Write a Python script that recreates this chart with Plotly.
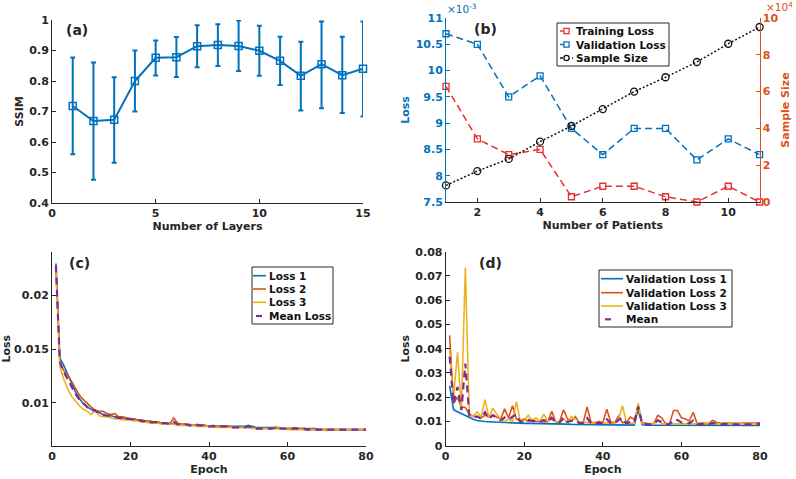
import plotly.graph_objects as go

W, H = 796, 479
def px(x): return x / W
def py(y): return 1 - y / H

FONT = "DejaVu Sans"
AX = "#262626"
BLUE = "#0072BD"
ORANGE = "#D95319"
YELLOW = "#EDB120"
PURPLE = "#7E2F8E"
RED = "#E5302F"

# ---------------- data (a) ----------------
layers = list(range(1, 16))
ssim_mean = [0.718, 0.669, 0.673, 0.800, 0.876, 0.878, 0.914, 0.918, 0.915, 0.899, 0.866, 0.817, 0.855, 0.819, 0.840]
ssim_upper = [0.877, 0.861, 0.812, 0.900, 0.933, 0.944, 0.983, 0.986, 0.998, 0.981, 0.945, 0.929, 0.995, 0.945, 0.995]
ssim_lower = [0.560, 0.476, 0.532, 0.700, 0.818, 0.813, 0.845, 0.849, 0.833, 0.817, 0.787, 0.703, 0.711, 0.695, 0.684]
a_xticks = [0, 5, 10, 15]
a_yticks = [0.4, 0.5, 0.6, 0.7, 0.8, 0.9, 1.0]
a_yticktext = ["0.4", "0.5", "0.6", "0.7", "0.8", "0.9", "1"]

# ---------------- data (b) ----------------
patients = list(range(1, 12))
training_loss = [0.0097, 0.0087, 0.0084, 0.0085, 0.0076, 0.0078, 0.0078, 0.0076, 0.0075, 0.0078, 0.0075]
validation_loss = [0.0107, 0.0105, 0.0095, 0.0099, 0.0089, 0.0084, 0.0089, 0.0089, 0.0083, 0.0087, 0.0084]
sample_size = [9000, 16800, 23400, 32800, 41300, 50500, 60000, 67800, 76100, 86000, 95100]
b_xticks = [2, 4, 6, 8, 10]
b_loss_ticks = [0.0075, 0.008, 0.0085, 0.009, 0.0095, 0.010, 0.0105, 0.011]
b_loss_ticktext = ["7.5", "8", "8.5", "9", "9.5", "10", "10.5", "11"]
b_size_ticks = [0, 20000, 40000, 60000, 80000, 100000]
b_size_ticktext = ["0", "2", "4", "6", "8", "10"]

# ---------------- data (c) ----------------
epochs = list(range(1, 81))
loss1 = [0.0230, 0.0142, 0.0135, 0.0127, 0.0118, 0.0110, 0.0104, 0.0099, 0.0096, 0.0094,
         0.0092, 0.0091, 0.0089, 0.0088, 0.0088, 0.0087, 0.0086, 0.0086, 0.0085, 0.0085,
         0.0084, 0.0084, 0.0083, 0.0083, 0.0082, 0.0082, 0.0082, 0.0081, 0.0081, 0.0081,
         0.0080, 0.0080, 0.0080, 0.0080, 0.0079, 0.0079, 0.0079, 0.0079, 0.0079, 0.0078,
         0.0079, 0.0078, 0.0078, 0.0078, 0.0078, 0.0078, 0.0078, 0.0078, 0.0078, 0.0079,
         0.0078, 0.0077, 0.0077, 0.0077, 0.0077, 0.0077, 0.0077, 0.0077, 0.0076, 0.0076,
         0.0076, 0.0076, 0.0076, 0.0076, 0.0076, 0.0076, 0.0076, 0.0075, 0.0075, 0.0075,
         0.0075, 0.0075, 0.0075, 0.0075, 0.0075, 0.0075, 0.0075, 0.0075, 0.0075, 0.0075]
loss2 = [0.0228, 0.0138, 0.0130, 0.0126, 0.0120, 0.0113, 0.0107, 0.0103, 0.0099, 0.0096,
         0.0093, 0.0092, 0.0092, 0.0090, 0.0089, 0.0090, 0.0087, 0.0087, 0.0086, 0.0085,
         0.0085, 0.0084, 0.0084, 0.0083, 0.0083, 0.0082, 0.0082, 0.0081, 0.0081, 0.0080,
         0.0086, 0.0081, 0.0080, 0.0080, 0.0080, 0.0079, 0.0080, 0.0079, 0.0079, 0.0078,
         0.0078, 0.0078, 0.0078, 0.0078, 0.0078, 0.0077, 0.0077, 0.0077, 0.0077, 0.0077,
         0.0077, 0.0076, 0.0076, 0.0076, 0.0076, 0.0076, 0.0076, 0.0076, 0.0076, 0.0076,
         0.0076, 0.0077, 0.0076, 0.0076, 0.0075, 0.0075, 0.0075, 0.0075, 0.0075, 0.0075,
         0.0075, 0.0075, 0.0075, 0.0075, 0.0075, 0.0075, 0.0075, 0.0075, 0.0075, 0.0075]
loss3 = [0.0225, 0.0134, 0.0122, 0.0113, 0.0106, 0.0101, 0.0097, 0.0094, 0.0092, 0.0089,
         0.0093, 0.0088, 0.0087, 0.0087, 0.0086, 0.0085, 0.0085, 0.0084, 0.0084, 0.0084,
         0.0083, 0.0083, 0.0082, 0.0082, 0.0081, 0.0081, 0.0081, 0.0080, 0.0080, 0.0080,
         0.0080, 0.0079, 0.0079, 0.0079, 0.0079, 0.0079, 0.0078, 0.0078, 0.0078, 0.0078,
         0.0078, 0.0077, 0.0077, 0.0077, 0.0077, 0.0077, 0.0077, 0.0077, 0.0077, 0.0077,
         0.0076, 0.0076, 0.0076, 0.0076, 0.0076, 0.0076, 0.0078, 0.0076, 0.0076, 0.0075,
         0.0075, 0.0075, 0.0075, 0.0075, 0.0075, 0.0075, 0.0075, 0.0075, 0.0075, 0.0074,
         0.0075, 0.0075, 0.0075, 0.0075, 0.0075, 0.0075, 0.0075, 0.0075, 0.0075, 0.0075]
loss_mean = [0.0228, 0.0138, 0.0129, 0.0122, 0.0115, 0.0108, 0.0103, 0.0099, 0.0096, 0.0093,
             0.0093, 0.0090, 0.0089, 0.0088, 0.0088, 0.0087, 0.0086, 0.0086, 0.0085, 0.0085,
             0.0084, 0.0084, 0.0083, 0.0083, 0.0082, 0.0082, 0.0082, 0.0081, 0.0081, 0.0080,
             0.0082, 0.0080, 0.0080, 0.0080, 0.0079, 0.0079, 0.0079, 0.0079, 0.0079, 0.0078,
             0.0078, 0.0078, 0.0078, 0.0078, 0.0078, 0.0077, 0.0077, 0.0077, 0.0077, 0.0078,
             0.0077, 0.0076, 0.0076, 0.0076, 0.0076, 0.0076, 0.0077, 0.0076, 0.0076, 0.0076,
             0.0076, 0.0076, 0.0076, 0.0076, 0.0075, 0.0075, 0.0075, 0.0075, 0.0075, 0.0075,
             0.0075, 0.0075, 0.0075, 0.0075, 0.0075, 0.0075, 0.0075, 0.0075, 0.0075, 0.0075]
c_xticks = [0, 20, 40, 60, 80]
c_yticks = [0.01, 0.015, 0.02]
c_yticktext = ["0.01", "0.015", "0.02"]

# ---------------- data (d) ----------------
val1 = [0.0247, 0.0148, 0.0140, 0.0132, 0.0124, 0.0116, 0.0109, 0.0104, 0.0101, 0.0100,
        0.0099, 0.0098, 0.0097, 0.0096, 0.0095, 0.0095, 0.0094, 0.0093, 0.0093, 0.0092,
        0.0092, 0.0092, 0.0091, 0.0091, 0.0091, 0.0090, 0.0090, 0.0090, 0.0089, 0.0089,
        0.0089, 0.0088, 0.0088, 0.0088, 0.0088, 0.0087, 0.0087, 0.0087, 0.0087, 0.0086,
        0.0086, 0.0086, 0.0086, 0.0086, 0.0086, 0.0085, 0.0085, 0.0085, 0.0150, 0.0086,
        0.0085, 0.0085, 0.0085, 0.0085, 0.0085, 0.0084, 0.0084, 0.0084, 0.0084, 0.0084,
        0.0084, 0.0084, 0.0084, 0.0083, 0.0083, 0.0083, 0.0083, 0.0083, 0.0083, 0.0083,
        0.0083, 0.0083, 0.0083, 0.0083, 0.0083, 0.0083, 0.0083, 0.0083, 0.0083, 0.0083]
val2 = [0.0455, 0.0175, 0.0200, 0.0160, 0.0158, 0.0130, 0.0122, 0.0118, 0.0115, 0.0125,
        0.0118, 0.0125, 0.0118, 0.0110, 0.0152, 0.0115, 0.0165, 0.0110, 0.0102, 0.0110,
        0.0100, 0.0108, 0.0100, 0.0102, 0.0098, 0.0100, 0.0142, 0.0098, 0.0100, 0.0148,
        0.0110, 0.0102, 0.0120, 0.0095, 0.0095, 0.0160, 0.0095, 0.0095, 0.0100, 0.0095,
        0.0150, 0.0098, 0.0095, 0.0122, 0.0095, 0.0095, 0.0118, 0.0108, 0.0160, 0.0095,
        0.0092, 0.0090, 0.0092, 0.0125, 0.0115, 0.0090, 0.0092, 0.0145, 0.0145, 0.0115,
        0.0110, 0.0102, 0.0138, 0.0090, 0.0092, 0.0090, 0.0092, 0.0105, 0.0095, 0.0092,
        0.0093, 0.0092, 0.0093, 0.0092, 0.0092, 0.0093, 0.0092, 0.0092, 0.0093, 0.0095]
val3 = [0.0400, 0.0200, 0.0385, 0.0150, 0.0735, 0.0125, 0.0120, 0.0140, 0.0118, 0.0190,
        0.0115, 0.0155, 0.0130, 0.0110, 0.0100, 0.0110, 0.0100, 0.0182, 0.0100, 0.0105,
        0.0125, 0.0102, 0.0115, 0.0100, 0.0130, 0.0100, 0.0112, 0.0098, 0.0098, 0.0110,
        0.0095, 0.0120, 0.0110, 0.0095, 0.0098, 0.0095, 0.0095, 0.0092, 0.0095, 0.0095,
        0.0092, 0.0095, 0.0092, 0.0110, 0.0165, 0.0095, 0.0092, 0.0092, 0.0175, 0.0092,
        0.0090, 0.0090, 0.0090, 0.0105, 0.0090, 0.0090, 0.0092, 0.0090, 0.0090, 0.0090,
        0.0090, 0.0090, 0.0090, 0.0090, 0.0095, 0.0095, 0.0092, 0.0092, 0.0090, 0.0090,
        0.0090, 0.0090, 0.0090, 0.0090, 0.0088, 0.0088, 0.0090, 0.0088, 0.0088, 0.0090]
val_mean = [0.0367, 0.0174, 0.0242, 0.0147, 0.0339, 0.0124, 0.0117, 0.0121, 0.0111, 0.0138,
            0.0111, 0.0126, 0.0115, 0.0105, 0.0116, 0.0107, 0.0120, 0.0128, 0.0098, 0.0102,
            0.0106, 0.0101, 0.0102, 0.0098, 0.0106, 0.0097, 0.0115, 0.0095, 0.0096, 0.0116,
            0.0098, 0.0103, 0.0106, 0.0093, 0.0094, 0.0114, 0.0092, 0.0091, 0.0094, 0.0092,
            0.0109, 0.0093, 0.0091, 0.0106, 0.0115, 0.0092, 0.0098, 0.0095, 0.0162, 0.0091,
            0.0089, 0.0088, 0.0089, 0.0105, 0.0097, 0.0088, 0.0089, 0.0106, 0.0106, 0.0096,
            0.0095, 0.0092, 0.0104, 0.0088, 0.0090, 0.0089, 0.0089, 0.0093, 0.0089, 0.0088,
            0.0089, 0.0088, 0.0089, 0.0088, 0.0088, 0.0088, 0.0088, 0.0088, 0.0088, 0.0089]
d_xticks = [0, 20, 40, 60, 80]
d_yticks = [0, 0.01, 0.02, 0.03, 0.04, 0.05, 0.06, 0.07, 0.08]
d_yticktext = ["0", "0.01", "0.02", "0.03", "0.04", "0.05", "0.06", "0.07", "0.08"]

fig = go.Figure()

# (a)
fig.add_trace(go.Scatter(
    x=layers, y=ssim_mean, mode="lines+markers", xaxis="x", yaxis="y",
    line=dict(color=BLUE, width=2),
    marker=dict(symbol="square-open", size=7, color=BLUE, line=dict(width=1.5)),
    error_y=dict(type="data", symmetric=False,
                 array=[u - m for u, m in zip(ssim_upper, ssim_mean)],
                 arrayminus=[m - l for m, l in zip(ssim_mean, ssim_lower)],
                 color=BLUE, thickness=2, width=2.5),
    cliponaxis=False, showlegend=False))

# (b)
fig.add_trace(go.Scatter(
    x=patients, y=training_loss, mode="lines+markers", xaxis="x2", yaxis="y2",
    line=dict(color=RED, width=1.5, dash="7px,4px"),
    marker=dict(symbol="square-open", size=6, color=RED, line=dict(width=1.3)),
    cliponaxis=False, name="Training Loss", showlegend=False))
fig.add_trace(go.Scatter(
    x=patients, y=validation_loss, mode="lines+markers", xaxis="x2", yaxis="y2",
    line=dict(color=BLUE, width=1.5, dash="7px,4px"),
    marker=dict(symbol="square-open", size=6, color=BLUE, line=dict(width=1.3)),
    cliponaxis=False, name="Validation Loss", showlegend=False))
fig.add_trace(go.Scatter(
    x=patients, y=sample_size, mode="lines+markers", xaxis="x2", yaxis="y3",
    line=dict(color="#111111", width=1.5, dash="2px,2px"),
    marker=dict(symbol="circle-open", size=7, color="#111111", line=dict(width=1.3)),
    cliponaxis=False, name="Sample Size", showlegend=False))

# (c)
for ys, col, nm in [(loss1, BLUE, "Loss 1"), (loss2, ORANGE, "Loss 2"), (loss3, YELLOW, "Loss 3")]:
    fig.add_trace(go.Scatter(x=epochs, y=ys, mode="lines", xaxis="x3", yaxis="y4",
                             line=dict(color=col, width=1.6), name=nm, showlegend=False))
fig.add_trace(go.Scatter(x=epochs, y=loss_mean, mode="lines", xaxis="x3", yaxis="y4",
                         line=dict(color=PURPLE, width=2.2, dash="7px,5px"),
                         name="Mean Loss", showlegend=False))

# (d)
for ys, col, nm in [(val1, BLUE, "Validation Loss 1"), (val2, ORANGE, "Validation Loss 2"),
                    (val3, YELLOW, "Validation Loss 3")]:
    fig.add_trace(go.Scatter(x=epochs, y=ys, mode="lines", xaxis="x4", yaxis="y5",
                             line=dict(color=col, width=1.6), name=nm, showlegend=False))
fig.add_trace(go.Scatter(x=epochs, y=val_mean, mode="lines", xaxis="x4", yaxis="y5",
                         line=dict(color=PURPLE, width=2.2, dash="7px,5px"),
                         name="Mean", showlegend=False))

tickfont = dict(family=FONT, size=11, color=AX, weight="bold")
titlefont = dict(family=FONT, size=11, color=AX, weight="bold")

def axis(domain, rng, tickvals, ticktext=None, color=AX, title="", standoff=3, **kw):
    d = dict(domain=domain, range=rng, tickvals=tickvals, showgrid=False, zeroline=False,
             showline=True, linecolor=color, linewidth=1, ticks="inside", ticklen=4,
             tickwidth=1, tickcolor=color, tickfont=dict(tickfont, color=color),
             title=dict(text=title, font=dict(titlefont, color=color), standoff=standoff),
             automargin=False, fixedrange=True)
    if ticktext is not None:
        d["ticktext"] = ticktext
    d.update(kw)
    return d

layout = dict(
    width=W, height=H, margin=dict(l=0, r=0, t=0, b=0),
    paper_bgcolor="white", plot_bgcolor="white", showlegend=False,
    xaxis=axis([px(52), px(363)], [0, 15], a_xticks, title="Number of Layers", anchor="y"),
    yaxis=axis([py(203), py(20)], [0.4, 1.0], a_yticks, a_yticktext, title="SSIM", anchor="x"),
    xaxis2=axis([px(446), px(759.6)], [1, 11], b_xticks, title="Number of Patients", anchor="y2"),
    yaxis2=axis([py(202), py(18)], [0.0075, 0.011], b_loss_ticks, b_loss_ticktext,
                color=BLUE, title="Loss", anchor="x2"),
    yaxis3=axis([py(202), py(18)], [0, 100000], b_size_ticks, b_size_ticktext,
                color=ORANGE, title="Sample Size", anchor="x2", overlaying="y2", side="right"),
    xaxis3=axis([px(52), px(366)], [0, 80], c_xticks, title="Epoch", anchor="y4"),
    yaxis4=axis([py(445.7), py(251.7)], [0.006, 0.0241], c_yticks, c_yticktext,
                title="Loss", anchor="x3"),
    xaxis4=axis([px(445.7), px(760)], [0, 80], d_xticks, title="Epoch", anchor="y5"),
    yaxis5=axis([py(445.7), py(251.7)], [0, 0.08], d_yticks, d_yticktext,
                title="Loss", anchor="x4"),
)

annotations = []
shapes = []

def label(text, x, y, size=14, color=AX, xanchor="left", weight="bold", pad=1):
    annotations.append(dict(text=text, x=px(x), y=py(y), xref="paper", yref="paper",
                            xanchor=xanchor, yanchor="middle", showarrow=False, borderpad=pad,
                            font=dict(family=FONT, size=size, color=color, weight=weight)))

label("(a)", 64, 30)
label("(b)", 472, 29)
label("(c)", 67, 263)
label("(d)", 477, 263)
label("×10<sup>-3</sup>", 446, 9, size=10.5, color=BLUE, weight="normal", pad=0)
label("×10<sup>4</sup>", 794, 6, size=10.5, color=ORANGE, xanchor="right", weight="normal", pad=0)

def legend_box(x0, y0, x1, y1):
    shapes.append(dict(type="rect", xref="paper", yref="paper", x0=px(x0), x1=px(x1),
                       y0=py(y1), y1=py(y0), line=dict(color=AX, width=1), fillcolor="white"))

def legend_line(x0, x1, y, color, width=1.6, dash="solid"):
    shapes.append(dict(type="line", xref="paper", yref="paper", x0=px(x0), x1=px(x1),
                       y0=py(y), y1=py(y), line=dict(color=color, width=width, dash=dash)))

def legend_marker(kind, cx, cy, color, r=2.6):
    shapes.append(dict(type="rect" if kind == "square" else "circle", xref="paper", yref="paper",
                       x0=px(cx - r), x1=px(cx + r), y0=py(cy + r), y1=py(cy - r),
                       line=dict(color=color, width=1.3), fillcolor="white"))

def legend_text(text, x, y):
    annotations.append(dict(text=text, x=px(x), y=py(y), xref="paper", yref="paper",
                            xanchor="left", yanchor="middle", showarrow=False,
                            font=dict(family=FONT, size=10.5, color="#111111", weight="bold")))

# legend (b)
legend_box(557, 23, 669, 66)
for (nm, col, kind, dash), yy in zip(
        [("Training Loss", RED, "square", "dash"), ("Validation Loss", BLUE, "square", "dash"),
         ("Sample Size", "#111111", "circle", "dot")], [31, 44.5, 58]):
    legend_line(560, 573, yy, col, width=1.4, dash=dash)
    legend_marker(kind, 566.5, yy, col)
    legend_text(nm, 574, yy)

# legend (c)
legend_box(252, 267, 333, 324)
for (nm, col), yy in zip([("Loss 1", BLUE), ("Loss 2", ORANGE), ("Loss 3", YELLOW)],
                         [275.7, 289, 302.3]):
    legend_line(253, 266, yy, col)
    legend_text(nm, 266.5, yy)
legend_line(256, 262, 316, PURPLE, width=2.2)
legend_text("Mean Loss", 266.5, 316)

# legend (d)
legend_box(599, 270, 732, 327)
for (nm, col), yy in zip([("Validation Loss 1", BLUE), ("Validation Loss 2", ORANGE),
                          ("Validation Loss 3", YELLOW)], [278.7, 292.7, 306]):
    legend_line(601, 623, yy, col)
    legend_text(nm, 623.5, yy)
legend_line(605, 611, 319.3, PURPLE, width=2.2)
legend_text("Mean", 623.5, 319.3)

layout["annotations"] = annotations
layout["shapes"] = shapes
fig.update_layout(**layout)
fig.write_html("out.html", config={"displayModeBar": False},
               post_script="document.body.style.margin='0';document.body.style.overflow='hidden';")
